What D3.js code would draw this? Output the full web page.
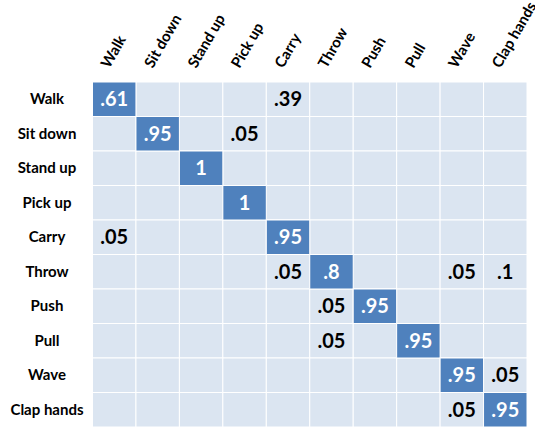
<!DOCTYPE html>
<html>
<head>
<meta charset="utf-8">
<script src="https://cdn.jsdelivr.net/npm/d3@7"></script>
<style>
  body { margin: 0; background: #fff; }
  text { font-family: Lato, "Open Sans", sans-serif; font-weight: bold; }
</style>
</head>
<body>
<svg id="chart" width="535" height="427"></svg>
<script>
const actions = ["Walk", "Sit down", "Stand up", "Pick up", "Carry", "Throw", "Push", "Pull", "Wave", "Clap hands"]

// non-zero cells: [row (true), column (predicted), value]
const cells = [
  ["Walk", "Walk", 0.61], ["Walk", "Carry", 0.39],
  ["Sit down", "Sit down", 0.95], ["Sit down", "Pick up", 0.05],
  ["Stand up", "Stand up", 1],
  ["Pick up", "Pick up", 1],
  ["Carry", "Walk", 0.05], ["Carry", "Carry", 0.95],
  ["Throw", "Carry", 0.05], ["Throw", "Throw", 0.8], ["Throw", "Wave", 0.05], ["Throw", "Clap hands", 0.1],
  ["Push", "Throw", 0.05], ["Push", "Push", 0.95],
  ["Pull", "Throw", 0.05], ["Pull", "Pull", 0.95],
  ["Wave", "Wave", 0.95], ["Wave", "Clap hands", 0.05],
  ["Clap hands", "Wave", 0.05], ["Clap hands", "Clap hands", 0.95]
]

const svg = d3.select("#chart")
const x = d3.scaleBand().domain(actions).range([92.5, 527])
const y = d3.scaleBand().domain(actions).range([82, 427])

const fmt = v => v === 1 ? "1" : d3.format(".2~f")(v).replace(/^0/, "")

//background grid
const grid = []
actions.forEach(r => actions.forEach(c => grid.push([r, c])))
svg.append("g").selectAll("rect")
  .data(grid)
  .enter().append("rect")
  .attr("x", d => x(d[1]))
  .attr("y", d => y(d[0]))
  .attr("width", x.bandwidth())
  .attr("height", y.bandwidth())
  .style("fill", "#dbe5f1")
  .style("stroke", "#fff")
  .style("stroke-width", 1)

//diagonal (correct) cells
svg.append("g").selectAll("rect")
  .data(cells.filter(d => d[0] === d[1]))
  .enter().append("rect")
  .attr("x", d => x(d[1]))
  .attr("y", d => y(d[0]))
  .attr("width", x.bandwidth())
  .attr("height", y.bandwidth())
  .style("fill", "#4f81bd")
  .style("stroke", "#fff")
  .style("stroke-width", 1)

svg.append("g").selectAll("text")
  .data(cells)
  .enter().append("text")
  .attr("x", d => x(d[1]) + x.bandwidth() / 2)
  .attr("y", d => y(d[0]) + y.bandwidth() / 2 + 7)
  .attr("text-anchor", "middle")
  .style("font-size", "20px")
  .style("fill", d => d[0] === d[1] ? "#fff" : "#000")
  .text(d => fmt(d[2]))

//row labels
svg.append("g").selectAll("text")
  .data(actions)
  .enter().append("text")
  .attr("x", 47)
  .attr("y", d => y(d) + y.bandwidth() / 2 + 5)
  .attr("text-anchor", "middle")
  .style("font-size", "15px")
  .text(d => d)

//column labels
svg.append("g").selectAll("text")
  .data(actions)
  .enter().append("text")
  .attr("transform", d => "translate(" + (x(d) + x.bandwidth() / 2 - 5) + ",69) rotate(-60)")
  .style("font-size", "15px")
  .text(d => d)
</script>
</body>
</html>
